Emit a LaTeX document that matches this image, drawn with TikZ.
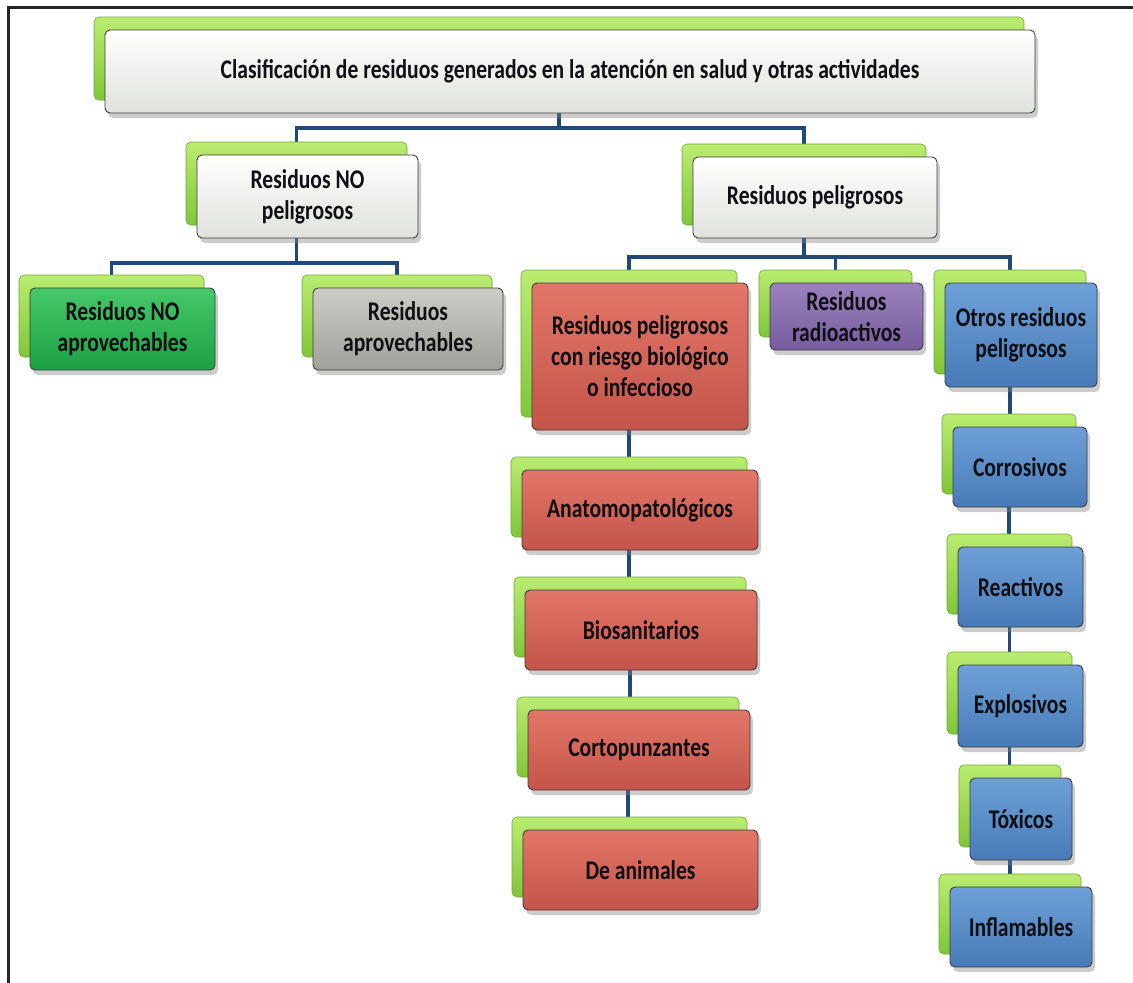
\documentclass[tikz,border=0pt]{standalone}
\usepackage{fontspec}
\newfontfamily\lbl{Carlito}[FakeStretch=0.80]
\usetikzlibrary{shadows,backgrounds}
\definecolor{connc}{RGB}{31,73,125}
\definecolor{bgtop}{RGB}{186,236,112}
\definecolor{bgbot}{RGB}{128,198,58}
\definecolor{bgline}{RGB}{110,168,48}
\definecolor{edgec}{RGB}{60,60,60}
\definecolor{txtc}{RGB}{15,15,20}
\definecolor{whtop}{RGB}{255,255,255}
\definecolor{whbot}{RGB}{224,226,220}
\definecolor{grtop}{RGB}{70,200,105}
\definecolor{grbot}{RGB}{28,160,68}
\definecolor{gytop}{RGB}{205,205,200}
\definecolor{gybot}{RGB}{160,160,155}
\definecolor{rdtop}{RGB}{226,118,104}
\definecolor{rdbot}{RGB}{196,84,74}
\definecolor{pptop}{RGB}{155,130,190}
\definecolor{ppbot}{RGB}{118,92,158}
\definecolor{bltop}{RGB}{110,160,215}
\definecolor{blbot}{RGB}{72,122,184}
\tikzset{
  backbox/.style={rectangle, rounded corners=5pt, draw=bgline, line width=0.6pt,
    top color=bgtop, bottom color=bgbot, inner sep=0pt, outer sep=0pt},
  frontbox/.style={rectangle, rounded corners=5pt, draw=edgec, line width=0.9pt,
    drop shadow={shadow xshift=3pt, shadow yshift=-5pt, opacity=0.4},
    font=\lbl\bfseries\fontsize{27}{31}\selectfont, text=txtc, align=center,
    inner sep=0pt, outer sep=0pt},
  whitefill/.style={top color=whtop, bottom color=whbot},
  greenfill/.style={top color=grtop, bottom color=grbot},
  grayfill/.style={top color=gytop, bottom color=gybot},
  redfill/.style={top color=rdtop, bottom color=rdbot},
  purplefill/.style={top color=pptop, bottom color=ppbot},
  bluefill/.style={top color=bltop, bottom color=blbot},
  conn/.style={draw=connc, line width=3.6pt},
  frameline/.style={draw=black!85, line width=3pt}
}
\newcommand\wbox[7]{%
  \pgfmathsetmacro\bw{#4-#2}\pgfmathsetmacro\bh{#5-#3}%
  \node[backbox, minimum width=\bw pt, minimum height=\bh pt] (#1-b) at ({(#2+#4)/2-11},{(#3+#5)/2-13}) {};
  \node[frontbox, #6, minimum width=\bw pt, minimum height=\bh pt] (#1) at ({(#2+#4)/2},{(#3+#5)/2}) {#7};
}
\begin{document}
\begin{tikzpicture}[x=1pt,y=-1pt]
\useasboundingbox (0,0) rectangle (1133,983);
\draw[frameline] (1133,7) -- (8,7) -- (8,983);

\wbox{title}{105}{30}{1035}{113}{whitefill}{Clasificación de residuos generados en la atención en salud y otras actividades}
\wbox{np}{197}{155}{418}{238}{whitefill}{Residuos NO\\peligrosos}
\wbox{p}{693}{157}{937}{238}{whitefill}{Residuos peligrosos}
\wbox{noap}{30}{288}{215}{370}{greenfill}{Residuos NO\\aprovechables}
\wbox{ap}{313}{288}{503}{370}{grayfill}{Residuos\\aprovechables}
\wbox{bio}{532}{283}{748}{430}{redfill}{Residuos peligrosos\\con riesgo biológico\\o infeccioso}
\wbox{rad}{770}{283}{923}{350}{purplefill}{Residuos\\radioactivos}
\wbox{otros}{945}{283}{1097}{387}{bluefill}{Otros residuos\\peligrosos}
\wbox{anat}{522}{470}{758}{550}{redfill}{Anatomopatológicos}
\wbox{biosan}{525}{590}{757}{670}{redfill}{Biosanitarios}
\wbox{corto}{528}{710}{750}{790}{redfill}{Cortopunzantes}
\wbox{anim}{523}{830}{758}{910}{redfill}{De animales}
\wbox{corr}{953}{427}{1087}{507}{bluefill}{Corrosivos}
\wbox{react}{958}{547}{1083}{627}{bluefill}{Reactivos}
\wbox{expl}{958}{665}{1083}{747}{bluefill}{Explosivos}
\wbox{tox}{970}{778}{1072}{860}{bluefill}{Tóxicos}
\wbox{infl}{950}{887}{1092}{967}{bluefill}{Inflamables}

\coordinate (bus1) at (0,128);
\coordinate (bus2) at (0,263);
\coordinate (bus3) at (0,257);
\begin{scope}[on background layer]
\fill[white] (0,0) rectangle (1133,983);
\draw[conn] (title-b.south) -- (title-b.south |- bus1);
\draw[conn] (np-b.north) |- (title-b.south |- bus1) -| (p-b.north);
\draw[conn] (np-b.south) -- (np-b.south |- bus2);
\draw[conn] (noap-b.north) |- (np-b.south |- bus2) -| (ap-b.north);
\draw[conn] (p-b.south) -- (p-b.south |- bus3);
\draw[conn] (bio-b.north) |- (p-b.south |- bus3) -| (otros-b.north);
\draw[conn] (rad-b.north) -- (rad-b.north |- bus3);
\draw[conn] (bio-b.south) -- (bio-b.south |- anat-b.north);
\draw[conn] (anat-b.south) -- (anat-b.south |- biosan-b.north);
\draw[conn] (biosan-b.south) -- (biosan-b.south |- corto-b.north);
\draw[conn] (corto-b.south) -- (corto-b.south |- anim-b.north);
\draw[conn] (otros-b.south) -- (otros-b.south |- corr-b.north);
\draw[conn] (corr-b.south) -- (corr-b.south |- react-b.north);
\draw[conn] (react-b.south) -- (react-b.south |- expl-b.north);
\draw[conn] (expl-b.south) -- (expl-b.south |- tox-b.north);
\draw[conn] (tox-b.south) -- (tox-b.south |- infl-b.north);
\end{scope}
\end{tikzpicture}
\end{document}
